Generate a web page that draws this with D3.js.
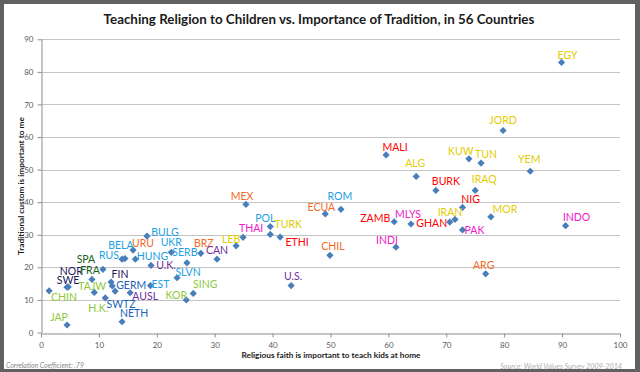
<!DOCTYPE html>
<html>
<head>
<meta charset="utf-8">
<script src="https://cdn.jsdelivr.net/npm/d3@7"></script>
<style>
  html, body { margin: 0; padding: 0; background: #fff; }
  svg { display: block; }
</style>
</head>
<body>
<svg id="chart" width="640" height="372"></svg>
<script>
// ---- data ----
const countries = ["EGY","JORD","MALI","KUW","TUN","YEM","ALG","BURK","IRAQ","NIG",
  "ROM","ECUA","MOR","ZAMB","MLYS","IRAN","GHAN","INDO","PAK","INDI",
  "ARG","MEX","POL","TURK","ETHI","THAI","LEB","CHIL","U.S.","BRZ",
  "CAN","SERB","UKR","BULG","URU","BELA","RUS","HUNG","U.K.","SLVN",
  "EST","SING","KOR","AUSL","GERM","FIN","NETH","SWTZ","H.K.","TAJW",
  "SPA","NOR","FRA","SWE","CHIN","JAP"];

// x: "Religious faith is important to teach kids at home" (%)
const religionAtHome = [89.9,79.8,59.6,73.9,76.0,84.5,64.8,68.2,75.0,72.8,
  51.8,49.1,77.7,61.0,63.9,71.5,70.6,90.6,72.8,61.3,
  76.8,35.4,39.6,39.6,41.3,34.9,33.7,49.9,43.2,27.6,
  30.4,25.2,22.5,18.3,15.9,14.5,14.0,16.3,19.0,23.5,
  18.9,26.3,25.1,15.4,12.3,12.1,14.0,12.8,11.1,9.2,
  10.7,4.7,8.8,4.5,1.4,4.5];

// y: "Traditional custom is important to me" (%)
const traditionImportant = [82.9,62.0,54.5,53.3,52.0,49.5,47.9,43.6,43.6,38.4,
  37.8,36.4,35.5,34.0,33.3,34.7,33.9,32.8,31.5,26.2,
  18.0,39.3,32.5,30.1,29.3,29.2,26.6,23.7,14.4,24.3,
  22.5,21.4,24.6,29.6,25.3,22.7,22.5,22.5,20.6,16.8,
  14.4,12.0,10.0,12.2,14.3,15.5,3.3,12.7,10.6,12.3,
  19.4,14.0,16.3,13.9,12.8,2.3];

const regions = ["mena","mena","africa","mena","mena","mena","mena","africa","mena","africa",
  "eastEu","latam","mena","africa","southAsia","mena","africa","southAsia","southAsia","southAsia",
  "latam","latam","eastEu","mena","africa","southAsia","mena","latam","anglo","latam",
  "anglo","eastEu","eastEu","eastEu","latam","eastEu","eastEu","eastEu","anglo","eastEu",
  "eastEu","eastAsia","eastAsia","anglo","westEu","nordic","westEu","westEu","eastAsia","eastAsia",
  "catholicEu","nordic","catholicEu","nordic","eastAsia","eastAsia"];

const xTicks = [0,10,20,30,40,50,60,70,80,90,100];
const yTicks = [0,10,20,30,40,50,60,70,80,90];

const chartTitle = "Teaching Religion to Children vs. Importance of Tradition, in 56 Countries";
const xTitle = "Religious faith is important to teach kids at home";
const yTitle = "Traditional custom is important to me";
const noteLeft = "Correlation Coefficient: .79";
const noteRight = "Source: World Values Survey 2009-2014";

// ---- styles ----
const regionColor = {
  africa: "#ff0000", mena: "#e3cc00", southAsia: "#f020c8", latam: "#f26a24",
  eastEu: "#1e9fe2", anglo: "#7030a0", nordic: "#1b1760", westEu: "#2162b8",
  catholicEu: "#185e18", eastAsia: "#8fc83c"
};

// label nudges in px (dx, dy) relative to the marker, as placed in the original
const labelNudge = {
  "EGY":[6,-7],"JORD":[0,-10],"MALI":[9,-8],"KUW":[-8,-8],"TUN":[5,-9],"YEM":[-1,-12],
  "ALG":[-1,-13],"BURK":[10,-9],"IRAQ":[9,-11],"NIG":[8,-8],"ROM":[-1,-13],"ECUA":[-4,-7],
  "MOR":[14,-8],"ZAMB":[-19,-3],"MLYS":[-3,-10],"IRAN":[-5,-7],"GHAN":[-18,1],"INDO":[11,-8],
  "PAK":[12,0],"INDI":[-9,-7],"ARG":[-2,-9],"MEX":[-4,-8],"POL":[-5,-8],"TURK":[18,-10],
  "ETHI":[17,5],"THAI":[8,-9],"LEB":[-5,-7],"CHIL":[3,-9],"U.S.":[2,-9],"BRZ":[3,-10],
  "CAN":[0,-9],"SERB":[-2,-10],"UKR":[0,-10],"BULG":[18,-4],"URU":[10,-7],"BELA":[-4,-13],
  "RUS":[-13,-4],"HUNG":[17,-3],"U.K.":[15,0],"SLVN":[11,-5],"EST":[10,-1],"SING":[12,-9],
  "KOR":[-10,-5],"AUSL":[15,4],"GERM":[19,-1],"FIN":[9,-8],"NETH":[12,-8],"SWTZ":[6,13],
  "H.K.":[-7,10],"TAJW":[-2,-6],"SPA":[-17,-10],"NOR":[3,-16],"FRA":[-2,-9],"SWE":[1,-7],
  "CHIN":[15,7],"JAP":[-8,-8]
};

const W = 640, H = 372;
const plot = { left: 41, right: 620, top: 39.3, bottom: 332.5 };
const font = "Lato, 'Open Sans', sans-serif";

const svg = d3.select("#chart");

// frame
svg.append("rect").attr("width", W).attr("height", H).attr("fill", "#616161");
svg.append("rect").attr("x", 4).attr("y", 4).attr("width", 631).attr("height", 365).attr("fill", "#fff");

const x = d3.scaleLinear().domain([0, 100]).range([plot.left, plot.right]);
const y = d3.scaleLinear().domain([0, 90]).range([plot.bottom, plot.top]);

// fit a text element to a given width by changing its font size
function fitWidth(sel, width) {
  const node = sel.node();
  let fs = parseFloat(sel.attr("font-size"));
  const len = node.getComputedTextLength();
  if (len > 0) sel.attr("font-size", (fs * width / len).toFixed(2));
}

// gridlines
svg.append("g").selectAll("line")
  .data(yTicks.filter(d => d > 0))
  .join("line")
  .attr("x1", plot.left).attr("x2", plot.right)
  .attr("y1", d => Math.round(y(d)) + 0.5).attr("y2", d => Math.round(y(d)) + 0.5)
  .attr("stroke", "#c4c4c4").attr("stroke-width", 1);

// axes
const yAxis = svg.append("g")
  .attr("transform", `translate(${plot.left + 0.5},0)`)
  .call(d3.axisLeft(y).tickValues(yTicks).tickSize(4).tickPadding(4).tickSizeOuter(0));
const xAxis = svg.append("g")
  .attr("transform", `translate(0,${Math.round(plot.bottom) + 0.5})`)
  .call(d3.axisBottom(x).tickValues(xTicks).tickSize(4).tickPadding(5).tickSizeOuter(0));

[yAxis, xAxis].forEach(g => {
  g.select(".domain").attr("stroke", "#8c8c8c");
  g.selectAll(".tick line").attr("stroke", "#8c8c8c");
  g.selectAll(".tick text").attr("fill", "#5a5a5a").attr("font-size", 8).attr("font-family", font);
});

// points
const pts = countries.map((c, i) => ({
  name: c, x: religionAtHome[i], y: traditionImportant[i], region: regions[i]
}));

svg.append("g").selectAll("path")
  .data(pts)
  .join("path")
  .attr("d", d3.symbol(d3.symbolSquare, 26))
  .attr("transform", d => `translate(${x(d.x)},${y(d.y)}) rotate(45)`)
  .attr("fill", "#4a7ebb");

// labels
svg.append("g").selectAll("text")
  .data(pts)
  .join("text")
  .attr("x", d => x(d.x) + (labelNudge[d.name] || [0, -9])[0])
  .attr("y", d => y(d.y) + (labelNudge[d.name] || [0, -9])[1])
  .attr("dy", "0.35em")
  .attr("text-anchor", "middle")
  .attr("font-family", font)
  .attr("font-size", 10.5)
  .attr("fill", d => regionColor[d.region])
  .text(d => d.name);

// titles
const t = svg.append("text")
  .attr("x", 319).attr("y", 19).attr("dy", "0.35em")
  .attr("text-anchor", "middle")
  .attr("font-family", font).attr("font-weight", 700).attr("font-size", 13)
  .attr("fill", "#1a1a1a")
  .text(chartTitle);
fitWidth(t, 431);

const xt = svg.append("text")
  .attr("x", 331).attr("y", 355).attr("dy", "0.35em")
  .attr("text-anchor", "middle")
  .attr("font-family", font).attr("font-weight", 700).attr("font-size", 9)
  .attr("fill", "#1a1a1a")
  .text(xTitle);
fitWidth(xt, 179);

const yt = svg.append("text")
  .attr("transform", "translate(21,186) rotate(-90)")
  .attr("dy", "0.35em")
  .attr("text-anchor", "middle")
  .attr("font-family", font).attr("font-weight", 700).attr("font-size", 9)
  .attr("fill", "#1a1a1a")
  .text(yTitle);
fitWidth(yt, 138);

// footnotes
const nl = svg.append("text")
  .attr("x", 6).attr("y", 366).attr("dy", "0.35em")
  .attr("font-family", font).attr("font-style", "italic").attr("font-size", 7)
  .attr("fill", "#8a8a8a")
  .text(noteLeft);
fitWidth(nl, 78);

const nr = svg.append("text")
  .attr("x", 622).attr("y", 366).attr("dy", "0.35em")
  .attr("text-anchor", "end")
  .attr("font-family", font).attr("font-style", "italic").attr("font-size", 7)
  .attr("fill", "#b0b0b0")
  .text(noteRight);
fitWidth(nr, 122);
</script>
</body>
</html>
